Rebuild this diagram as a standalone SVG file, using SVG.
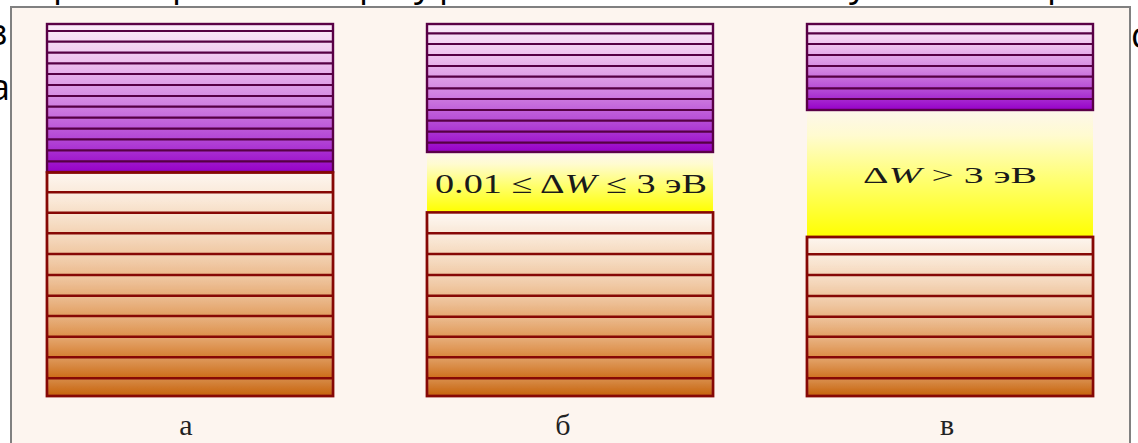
<svg xmlns="http://www.w3.org/2000/svg" width="1138" height="443" viewBox="0 0 1138 443">
<style>
.bg{font-family:"Open Sans","Noto Sans",sans-serif;font-size:36px;fill:#000}
.frame{fill:#fdf5ef;stroke:#808080;stroke-width:2}
.pur{fill:url(#gp);stroke:#5a0046;stroke-width:2.4}
.pl{stroke:#560044;stroke-width:2.2}
.ora{fill:url(#go);stroke:#860805;stroke-width:2.8}
.ol{stroke:#860805;stroke-width:2.5}
.gap{fill:url(#gy)}
.shade{fill:url(#rowshade)}
.f{font-family:"Liberation Serif","DejaVu Serif",serif;fill:#1a1a1a}
.lab{font-family:"Liberation Serif","DejaVu Serif",serif;font-size:30px;fill:#222;text-anchor:middle}
</style>
<defs>
<linearGradient id="gp" x1="0" y1="0" x2="0" y2="1">
<stop offset="0" stop-color="#fbeefa"/>
<stop offset="0.25" stop-color="#eec2ee"/>
<stop offset="0.55" stop-color="#d080e0"/>
<stop offset="0.8" stop-color="#b040d4"/>
<stop offset="1" stop-color="#9600c8"/>
</linearGradient>
<linearGradient id="go" x1="0" y1="0" x2="0" y2="1">
<stop offset="0" stop-color="#fdf6f0"/>
<stop offset="0.15" stop-color="#f8e2cc"/>
<stop offset="0.45" stop-color="#ecbb8e"/>
<stop offset="0.75" stop-color="#dc8c44"/>
<stop offset="1" stop-color="#c45c00"/>
</linearGradient>
<linearGradient id="gy" x1="0" y1="0" x2="0" y2="1">
<stop offset="0" stop-color="#fdf6ec"/>
<stop offset="0.2" stop-color="#fffbd0"/>
<stop offset="0.55" stop-color="#ffff70"/>
<stop offset="1" stop-color="#ffff00"/>
</linearGradient>
<linearGradient id="rs" x1="0" y1="0" x2="0" y2="1">
<stop offset="0" stop-color="#ffffff" stop-opacity="0.22"/>
<stop offset="1" stop-color="#ffffff" stop-opacity="0"/>
</linearGradient>
<pattern id="rowshade" patternUnits="userSpaceOnUse" x="0" y="192.3" width="1138" height="20.67">
<rect width="1138" height="20.67" fill="url(#rs)"/>
</pattern>
</defs>
<rect width="1138" height="443" fill="#ffffff"/>
<g id="background-text">
<text class="bg" x="-10" y="45">з</text>
<text class="bg" x="-10" y="100">а</text>
<text class="bg" x="1131" y="48">с</text>
<text class="bg" x="53" y="-4">р</text>
<text class="bg" x="172" y="-4">р</text>
<text class="bg" x="359" y="-4">р</text>
<text class="bg" x="414" y="-4">у</text>
<text class="bg" x="439" y="-4">р</text>
<text class="bg" x="849" y="-4">у</text>
<text class="bg" x="1047" y="-4">р</text>
</g>
<rect class="frame" x="11" y="7" width="1119" height="450"/>
<g id="column-a">
<rect class="pur" x="47" y="24" width="286" height="148"/>
<g class="pl">
<line x1="47" x2="333" y1="31" y2="31"/>
<line x1="47" x2="333" y1="41.7" y2="41.7"/>
<line x1="47" x2="333" y1="52.7" y2="52.7"/>
<line x1="47" x2="333" y1="63.3" y2="63.3"/>
<line x1="47" x2="333" y1="74" y2="74"/>
<line x1="47" x2="333" y1="85" y2="85"/>
<line x1="47" x2="333" y1="96" y2="96"/>
<line x1="47" x2="333" y1="106.7" y2="106.7"/>
<line x1="47" x2="333" y1="117.7" y2="117.7"/>
<line x1="47" x2="333" y1="128.7" y2="128.7"/>
<line x1="47" x2="333" y1="139.3" y2="139.3"/>
<line x1="47" x2="333" y1="150.3" y2="150.3"/>
<line x1="47" x2="333" y1="161.3" y2="161.3"/>
</g>
<rect class="ora" x="47" y="172.5" width="286" height="223.5"/>
<rect class="shade" x="48" y="192" width="284" height="203"/>
<g class="ol">
<line x1="47" x2="333" y1="192.3" y2="192.3"/>
<line x1="47" x2="333" y1="212.7" y2="212.7"/>
<line x1="47" x2="333" y1="233.3" y2="233.3"/>
<line x1="47" x2="333" y1="254" y2="254"/>
<line x1="47" x2="333" y1="275" y2="275"/>
<line x1="47" x2="333" y1="295.7" y2="295.7"/>
<line x1="47" x2="333" y1="316" y2="316"/>
<line x1="47" x2="333" y1="336.7" y2="336.7"/>
<line x1="47" x2="333" y1="357.3" y2="357.3"/>
<line x1="47" x2="333" y1="378.3" y2="378.3"/>
</g>
<text class="lab" x="186" y="435">а</text>
</g>
<g id="column-b">
<rect class="gap" x="427" y="152" width="286" height="60"/>
<rect class="pur" x="427" y="24" width="286" height="128"/>
<g class="pl">
<line x1="427" x2="713" y1="33.3" y2="33.3"/>
<line x1="427" x2="713" y1="44" y2="44"/>
<line x1="427" x2="713" y1="55" y2="55"/>
<line x1="427" x2="713" y1="66" y2="66"/>
<line x1="427" x2="713" y1="76.7" y2="76.7"/>
<line x1="427" x2="713" y1="88.3" y2="88.3"/>
<line x1="427" x2="713" y1="99" y2="99"/>
<line x1="427" x2="713" y1="110" y2="110"/>
<line x1="427" x2="713" y1="120.7" y2="120.7"/>
<line x1="427" x2="713" y1="131.7" y2="131.7"/>
<line x1="427" x2="713" y1="142.7" y2="142.7"/>
</g>
<text class="f" x="435" y="193" font-size="27" textLength="272" lengthAdjust="spacingAndGlyphs">0.01 ≤ Δ<tspan font-style="italic">W</tspan> ≤ 3 эВ</text>
<rect class="ora" x="427" y="212.5" width="286" height="183.5"/>
<rect class="shade" x="428" y="213" width="284" height="182"/>
<g class="ol">
<line x1="427" x2="713" y1="233.3" y2="233.3"/>
<line x1="427" x2="713" y1="254" y2="254"/>
<line x1="427" x2="713" y1="275" y2="275"/>
<line x1="427" x2="713" y1="295.7" y2="295.7"/>
<line x1="427" x2="713" y1="316.7" y2="316.7"/>
<line x1="427" x2="713" y1="336.7" y2="336.7"/>
<line x1="427" x2="713" y1="357.3" y2="357.3"/>
<line x1="427" x2="713" y1="378.3" y2="378.3"/>
</g>
<text class="lab" x="563" y="435">б</text>
</g>
<g id="column-v">
<rect class="gap" x="807" y="110" width="286" height="127"/>
<rect class="pur" x="807" y="24" width="286" height="86"/>
<g class="pl">
<line x1="807" x2="1093" y1="33.3" y2="33.3"/>
<line x1="807" x2="1093" y1="44" y2="44"/>
<line x1="807" x2="1093" y1="55" y2="55"/>
<line x1="807" x2="1093" y1="66" y2="66"/>
<line x1="807" x2="1093" y1="76.7" y2="76.7"/>
<line x1="807" x2="1093" y1="88.3" y2="88.3"/>
<line x1="807" x2="1093" y1="99" y2="99"/>
</g>
<text class="f" x="863" y="183" font-size="23" textLength="174" lengthAdjust="spacingAndGlyphs">Δ<tspan font-style="italic">W</tspan> &gt; 3 эВ</text>
<rect class="ora" x="807" y="237" width="286" height="159"/>
<rect class="shade" x="808" y="254" width="284" height="141"/>
<g class="ol">
<line x1="807" x2="1093" y1="254.3" y2="254.3"/>
<line x1="807" x2="1093" y1="275" y2="275"/>
<line x1="807" x2="1093" y1="296" y2="296"/>
<line x1="807" x2="1093" y1="316.7" y2="316.7"/>
<line x1="807" x2="1093" y1="336.7" y2="336.7"/>
<line x1="807" x2="1093" y1="357.3" y2="357.3"/>
<line x1="807" x2="1093" y1="378.3" y2="378.3"/>
</g>
<text class="lab" x="947" y="435">в</text>
</g>
</svg>
